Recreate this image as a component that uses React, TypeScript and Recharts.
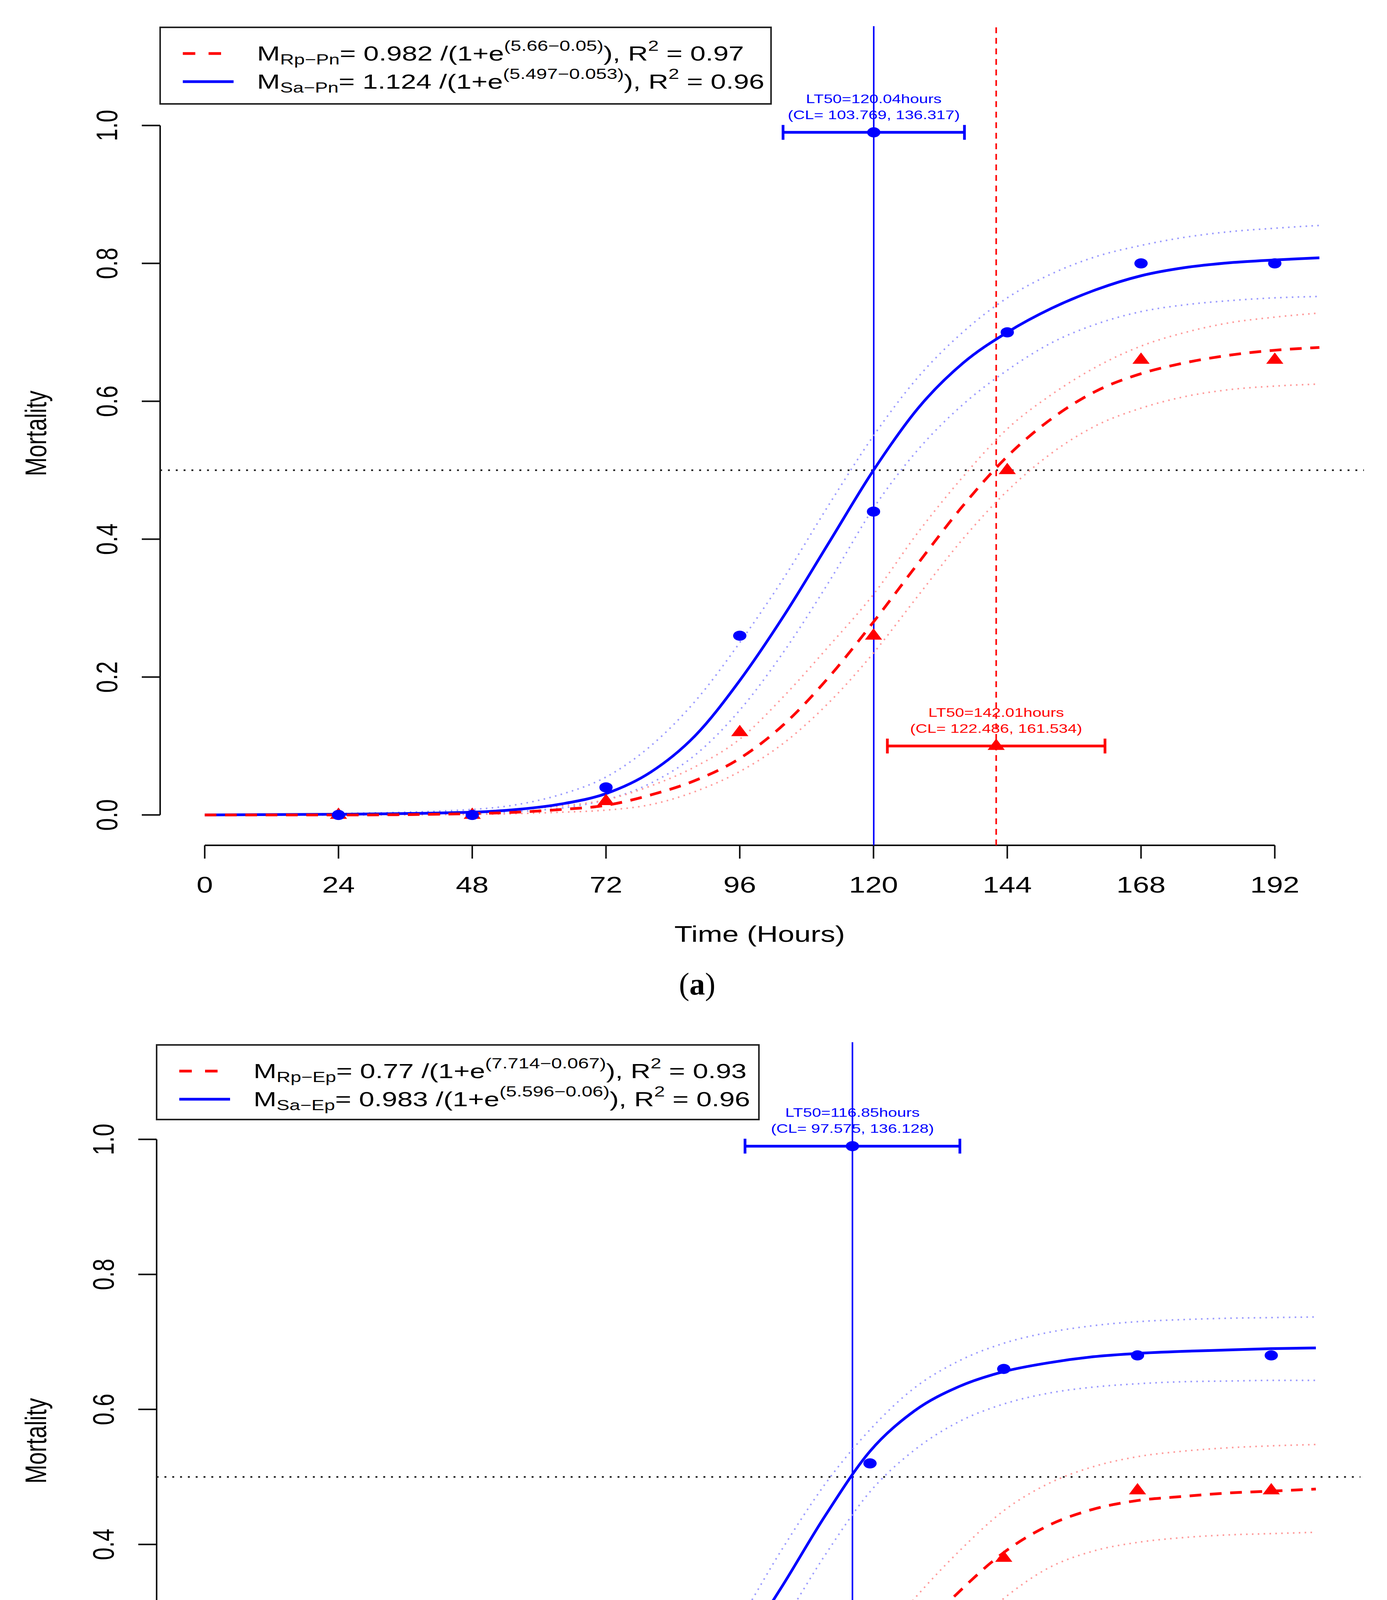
import React from "react";
import {
  ComposedChart,
  Line,
  Scatter,
  XAxis,
  YAxis,
  ReferenceLine,
  ErrorBar,
  Legend,
  Label,
} from "recharts";

const SANS = "'Liberation Sans', Arial, sans-serif";
const SERIF = "'Liberation Serif', 'Times New Roman', serif";
// the figure is stretched sideways, so the text is too
const STRETCH = 1.3;
const BLUE = "#0000ff";
const RED = "#ff0000";
const BLUE_CI = "#9a9aff";
const RED_CI = "#ff9a9a";

// time grid the fitted curves were read on
const CURVE_T = [0, 24, 48, 56, 64, 72, 80, 88, 96, 104, 112, 120, 128, 136, 144, 152, 160, 168, 176, 184, 192, 200];

// (a) Sa-Pn
const A_SA_FIT = [0, 0.001, 0.004, 0.008, 0.016, 0.031, 0.062, 0.115, 0.195, 0.29, 0.395, 0.5, 0.59, 0.655, 0.7, 0.735, 0.762, 0.782, 0.794, 0.801, 0.805, 0.808];
const A_SA_UP = [0, 0.002, 0.008, 0.015, 0.03, 0.055, 0.1, 0.165, 0.25, 0.345, 0.45, 0.55, 0.635, 0.7, 0.75, 0.785, 0.81, 0.826, 0.838, 0.846, 0.851, 0.855];
const A_SA_LO = [0, 0, 0.002, 0.005, 0.01, 0.022, 0.046, 0.087, 0.152, 0.238, 0.338, 0.445, 0.53, 0.595, 0.645, 0.685, 0.712, 0.73, 0.74, 0.746, 0.75, 0.752];
// (a) Rp-Pn
const A_RP_FIT = [0, 0, 0.002, 0.004, 0.008, 0.014, 0.029, 0.05, 0.082, 0.132, 0.2, 0.28, 0.365, 0.448, 0.52, 0.575, 0.615, 0.64, 0.656, 0.667, 0.674, 0.678];
const A_RP_UP = [0, 0.001, 0.004, 0.008, 0.013, 0.022, 0.042, 0.07, 0.11, 0.173, 0.245, 0.32, 0.41, 0.49, 0.56, 0.61, 0.65, 0.68, 0.7, 0.714, 0.722, 0.728];
const A_RP_LO = [0, 0, 0.001, 0.002, 0.004, 0.007, 0.015, 0.034, 0.063, 0.105, 0.163, 0.235, 0.318, 0.4, 0.47, 0.525, 0.565, 0.59, 0.607, 0.617, 0.622, 0.625];

// (b) Sa-Ep
const B_SA_FIT = [0, 0.001, 0.003, 0.007, 0.017, 0.043, 0.09, 0.157, 0.235, 0.335, 0.443, 0.538, 0.598, 0.634, 0.656, 0.669, 0.678, 0.683, 0.686, 0.688, 0.69, 0.691];
const B_SA_UP = [0, 0.002, 0.006, 0.012, 0.03, 0.06, 0.115, 0.19, 0.28, 0.39, 0.49, 0.57, 0.632, 0.672, 0.698, 0.714, 0.724, 0.73, 0.733, 0.735, 0.736, 0.737];
const B_SA_LO = [0, 0, 0.001, 0.003, 0.009, 0.025, 0.06, 0.115, 0.19, 0.28, 0.385, 0.478, 0.54, 0.582, 0.608, 0.624, 0.633, 0.638, 0.641, 0.642, 0.643, 0.643];
// (b) Rp-Ep
const B_RP_FIT = [0, 0, 0.0005, 0.001, 0.001, 0.002, 0.006, 0.013, 0.03, 0.068, 0.125, 0.19, 0.262, 0.33, 0.388, 0.428, 0.452, 0.465, 0.471, 0.476, 0.479, 0.482];
const B_RP_UP = [0, 0, 0.001, 0.002, 0.004, 0.007, 0.014, 0.027, 0.055, 0.1, 0.165, 0.24, 0.32, 0.39, 0.45, 0.49, 0.515, 0.53, 0.538, 0.543, 0.546, 0.548];
const B_RP_LO = [0, 0, 0, 0, 0, 0.001, 0.002, 0.005, 0.012, 0.03, 0.065, 0.12, 0.19, 0.26, 0.32, 0.365, 0.39, 0.403, 0.41, 0.414, 0.416, 0.418];

// observed mortality
const OBS_T = [24, 48, 72, 96, 120, 144, 168, 192];
const A_SA_OBS = [0, 0, 0.04, 0.26, 0.44, 0.7, 0.8, 0.8];
const A_RP_OBS = [0, 0, 0.02, 0.12, 0.26, 0.5, 0.66, 0.66];
const B_SA_OBS = [0, 0, 0.08, 0.24, 0.52, 0.66, 0.68, 0.68];
const B_RP_OBS = [0, 0, 0, 0.06, 0.2, 0.38, 0.48, 0.48];

// LT50 with confidence limits: [Sa, Rp]
const A_LT50 = [120.04, 142.01];
const A_CL_LOW = [103.769, 122.486];
const A_CL_HIGH = [136.317, 161.534];
const A_LT50_Y = [0.99, 0.1];
const B_LT50 = [116.85];
const B_CL_LOW = [97.575];
const B_CL_HIGH = [136.128];
const B_LT50_Y = [0.99];

const X_TICKS = [0, 24, 48, 72, 96, 120, 144, 168, 192];
const Y_TICKS = [0, 0.2, 0.4, 0.6, 0.8, 1.0];
const X_DOMAIN = [-8, 208];
const Y_DOMAIN = [-0.044, 1.144];

type LegendRow = { color: string; dashed: boolean; sub: string; coef: string; exp: string; r2: string };

const A_LEGEND: LegendRow[] = [
  { color: RED, dashed: true, sub: "Rp\u2212Pn", coef: "0.982", exp: "(5.66\u22120.05)", r2: "0.97" },
  { color: BLUE, dashed: false, sub: "Sa\u2212Pn", coef: "1.124", exp: "(5.497\u22120.053)", r2: "0.96" },
];
const B_LEGEND: LegendRow[] = [
  { color: RED, dashed: true, sub: "Rp\u2212Ep", coef: "0.77", exp: "(7.714\u22120.067)", r2: "0.93" },
  { color: BLUE, dashed: false, sub: "Sa\u2212Ep", coef: "0.983", exp: "(5.596\u22120.06)", r2: "0.96" },
];

const rows = (ts: number[], vs: number[]) => ts.map((t, i) => ({ t, v: vs[i] }));

const ltRows = (lt: number[], lo: number[], hi: number[], ys: number[]) =>
  lt.map((t, i) => ({ t, v: ys[i], lo: lo[i], hi: hi[i], err: [t - lo[i], hi[i] - t] }));

const circle = (cx: number, cy: number, color: string) => (
  <ellipse cx={cx} cy={cy} rx={17} ry={13} fill={color} />
);
const triangle = (cx: number, cy: number, color: string) => (
  <polygon points={`${cx},${cy - 19} ${cx + 22},${cy + 10} ${cx - 22},${cy + 10}`} fill={color} />
);

const pointShape = (color: string, kind: string) => (p: any) =>
  kind === "circle" ? circle(p.cx, p.cy, color) : triangle(p.cx, p.cy, color);

const ltShape = (color: string, kind: string) => (p: any) => (
  <g>
    {kind === "circle" ? circle(p.cx, p.cy, color) : triangle(p.cx, p.cy, color)}
    <text
      transform={`translate(${p.cx},${p.cy - 86}) scale(${STRETCH},1)`}
      textAnchor="middle"
      dominantBaseline="central"
      fontSize={32}
      fontFamily={SANS}
      fill={color}
    >
      LT50={p.payload.t.toFixed(2)}hours
    </text>
    <text
      transform={`translate(${p.cx},${p.cy - 45}) scale(${STRETCH},1)`}
      textAnchor="middle"
      dominantBaseline="central"
      fontSize={32}
      fontFamily={SANS}
      fill={color}
    >
      (CL= {String(p.payload.lo)}, {String(p.payload.hi)})
    </text>
  </g>
);

const XTick = (p: any) => (
  <text
    transform={`translate(${p.x},${p.y}) scale(${STRETCH},1)`}
    textAnchor="middle"
    dy="0.71em"
    fontSize={58}
    fontFamily={SANS}
    fill="#000"
  >
    {p.payload.value}
  </text>
);

const YTick = (p: any) => (
  <text
    transform={`translate(${p.x},${p.y}) scale(${STRETCH},1) rotate(-90)`}
    textAnchor="middle"
    fontSize={58}
    fontFamily={SANS}
    fill="#000"
  >
    {Number(p.payload.value).toFixed(1)}
  </text>
);

function LegendBox({ items, width, height }: { items: LegendRow[]; width: number; height: number }) {
  return (
    <div
      style={{
        width,
        height,
        boxSizing: "border-box",
        border: "4px solid #222",
        background: "#fff",
        position: "relative",
        fontFamily: SANS,
        color: "#000",
      }}
    >
      {items.map((r, i) => (
        <div key={i} style={{ position: "absolute", left: 0, top: 25 + i * 72, height: 80, width: "100%" }}>
          <svg width={140} height={80} style={{ position: "absolute", left: 52, top: 0 }}>
            <line
              x1={4}
              x2={134}
              y1={40}
              y2={40}
              stroke={r.color}
              strokeWidth={7}
              strokeDasharray={r.dashed ? "32 34" : undefined}
            />
          </svg>
          <span
            style={{
              position: "absolute",
              left: 246,
              top: 0,
              lineHeight: "80px",
              fontSize: 52,
              whiteSpace: "nowrap",
              display: "inline-block",
              transform: "scaleX(1.36)",
              transformOrigin: "left center",
            }}
          >
            M<span style={{ fontSize: "0.7em", position: "relative", top: "0.28em" }}>{r.sub}</span>= {r.coef} /(1+e
            <span style={{ fontSize: "0.7em", position: "relative", top: "-0.68em" }}>{r.exp}</span>), R
            <span style={{ fontSize: "0.7em", position: "relative", top: "-0.68em" }}>2</span> = {r.r2}
          </span>
        </div>
      ))}
    </div>
  );
}

type Layout = {
  height: number;
  plotLeft: number;
  plotRight: number;
  plotTop: number;
  plotBottom: number;
  legend: { left: number; top: number; width: number; height: number };
  captionY: number;
};

type PanelProps = {
  layout: Layout;
  fits: { data: { t: number; v: number }[]; color: string; dashed: boolean }[];
  bands: { data: { t: number; v: number }[]; color: string }[];
  points: { data: { t: number; v: number }[]; color: string; kind: string }[];
  lt50: { data: any[]; color: string; kind: string; dashed: boolean }[];
  legend: LegendRow[];
  caption: string;
};

const W = 3551;
const AXIS_H = 300;

function Panel({ layout, fits, bands, points, lt50, legend, caption }: PanelProps) {
  const margin = {
    top: layout.plotTop,
    right: W - layout.plotRight,
    left: 0,
    bottom: layout.height - layout.plotBottom - AXIS_H,
  };
  return (
    <div style={{ position: "relative", width: W, height: layout.height }}>
      <ComposedChart width={W} height={layout.height} margin={margin}>
        <XAxis
          type="number"
          dataKey="t"
          domain={X_DOMAIN}
          ticks={X_TICKS}
          interval={0}
          allowDataOverflow
          height={AXIS_H}
          axisLine={false}
          tickLine={{ stroke: "#111", strokeWidth: 4 }}
          tickSize={34}
          tickMargin={46}
          tick={XTick}
        >
          <Label
            content={(p: any) => {
              const vb = p.viewBox || { x: layout.plotLeft, y: layout.plotBottom, width: layout.plotRight - layout.plotLeft };
              return (
                <text
                  transform={`translate(${vb.x + vb.width / 2 - 6},${vb.y + 247}) scale(${STRETCH},1)`}
                  textAnchor="middle"
                  fontSize={58}
                  fontFamily={SANS}
                  fill="#000"
                >
                  Time (Hours)
                </text>
              );
            }}
          />
        </XAxis>
        <YAxis
          type="number"
          domain={Y_DOMAIN}
          ticks={Y_TICKS}
          interval={0}
          allowDataOverflow
          width={layout.plotLeft}
          axisLine={false}
          tickLine={{ stroke: "#111", strokeWidth: 4 }}
          tickSize={47}
          tickMargin={63}
          tick={YTick}
        >
          <Label
            content={(p: any) => {
              const vb = p.viewBox || { y: layout.plotTop, height: layout.plotBottom - layout.plotTop };
              return (
                <text
                  transform={`translate(92,${vb.y + vb.height / 2 - 6}) scale(${STRETCH},1) rotate(-90)`}
                  textAnchor="middle"
                  dominantBaseline="central"
                  fontSize={58}
                  fontFamily={SANS}
                  fill="#000"
                >
                  Mortality
                </text>
              );
            }}
          />
        </YAxis>

        {/* R style axis lines, only over the tick range */}
        <ReferenceLine
          segment={[{ x: X_DOMAIN[0], y: Y_TICKS[0] }, { x: X_DOMAIN[0], y: Y_TICKS[Y_TICKS.length - 1] }]}
          stroke="#111"
          strokeWidth={4}
          ifOverflow="visible"
        />
        <ReferenceLine
          segment={[{ x: X_TICKS[0], y: Y_DOMAIN[0] }, { x: X_TICKS[X_TICKS.length - 1], y: Y_DOMAIN[0] }]}
          stroke="#111"
          strokeWidth={4}
          ifOverflow="visible"
        />

        <ReferenceLine y={0.5} stroke="#222" strokeWidth={4} strokeDasharray="5 15" />
        {lt50.map((s, i) => (
          <ReferenceLine
            key={"v" + i}
            x={s.data[0].t}
            stroke={s.color}
            strokeWidth={4}
            strokeDasharray={s.dashed ? "15 12" : undefined}
          />
        ))}

        {bands.map((b, i) => (
          <Line
            key={"b" + i}
            data={b.data}
            dataKey="v"
            type="monotone"
            stroke={b.color}
            strokeWidth={4}
            strokeDasharray="4 11"
            dot={false}
            activeDot={false}
            isAnimationActive={false}
          />
        ))}
        {fits.map((f, i) => (
          <Line
            key={"f" + i}
            data={f.data}
            dataKey="v"
            type="monotone"
            stroke={f.color}
            strokeWidth={7}
            strokeDasharray={f.dashed ? "30 22" : undefined}
            dot={false}
            activeDot={false}
            isAnimationActive={false}
          />
        ))}
        {points.map((s, i) => (
          <Scatter
            key={"p" + i}
            data={s.data}
            dataKey="v"
            fill={s.color}
            shape={pointShape(s.color, s.kind)}
            isAnimationActive={false}
          />
        ))}
        {lt50.map((s, i) => (
          <Scatter
            key={"l" + i}
            data={s.data}
            dataKey="v"
            fill={s.color}
            shape={ltShape(s.color, s.kind)}
            isAnimationActive={false}
          >
            <ErrorBar
              dataKey="err"
              direction="x"
              width={19}
              stroke={s.color}
              strokeWidth={7}
              isAnimationActive={false}
            />
          </Scatter>
        ))}

        <Legend
          layout="vertical"
          align="center"
          verticalAlign="middle"
          wrapperStyle={{
            left: layout.legend.left,
            top: layout.legend.top,
            width: layout.legend.width,
            height: layout.legend.height,
          }}
          content={() => <LegendBox items={legend} width={layout.legend.width} height={layout.legend.height} />}
        />
      </ComposedChart>
      <div
        style={{
          position: "absolute",
          left: 1685,
          width: 200,
          top: layout.captionY - 45,
          height: 90,
          lineHeight: "90px",
          textAlign: "center",
          fontFamily: SERIF,
          fontSize: 80,
          color: "#000",
        }}
      >
        (<b>{caption}</b>)
      </div>
    </div>
  );
}

const LAYOUT_A: Layout = {
  height: 2600,
  plotLeft: 410,
  plotRight: 3492,
  plotTop: 67,
  plotBottom: 2164,
  legend: { left: 408, top: 68, width: 1568, height: 200 },
  captionY: 2519,
};

const LAYOUT_B: Layout = {
  height: 2574,
  plotLeft: 401,
  plotRight: 3483,
  plotTop: 68,
  plotBottom: 2121,
  legend: { left: 399, top: 73, width: 1546, height: 195 },
  captionY: 2457,
};

export default function App() {
  // in normal flow; the negative margin cancels the body margin
  return (
    <div style={{ margin: -8, width: W, height: 5174, background: "#fff", overflow: "hidden" }}>
      <Panel
        layout={LAYOUT_A}
        bands={[
          { data: rows(CURVE_T, A_SA_UP), color: BLUE_CI },
          { data: rows(CURVE_T, A_SA_LO), color: BLUE_CI },
          { data: rows(CURVE_T, A_RP_UP), color: RED_CI },
          { data: rows(CURVE_T, A_RP_LO), color: RED_CI },
        ]}
        fits={[
          { data: rows(CURVE_T, A_SA_FIT), color: BLUE, dashed: false },
          { data: rows(CURVE_T, A_RP_FIT), color: RED, dashed: true },
        ]}
        points={[
          { data: rows(OBS_T, A_RP_OBS), color: RED, kind: "triangle" },
          { data: rows(OBS_T, A_SA_OBS), color: BLUE, kind: "circle" },
        ]}
        lt50={[
          { data: ltRows(A_LT50, A_CL_LOW, A_CL_HIGH, A_LT50_Y).slice(0, 1), color: BLUE, kind: "circle", dashed: false },
          { data: ltRows(A_LT50, A_CL_LOW, A_CL_HIGH, A_LT50_Y).slice(1, 2), color: RED, kind: "triangle", dashed: true },
        ]}
        legend={A_LEGEND}
        caption="a"
      />
      <Panel
        layout={LAYOUT_B}
        bands={[
          { data: rows(CURVE_T, B_SA_UP), color: BLUE_CI },
          { data: rows(CURVE_T, B_SA_LO), color: BLUE_CI },
          { data: rows(CURVE_T, B_RP_UP), color: RED_CI },
          { data: rows(CURVE_T, B_RP_LO), color: RED_CI },
        ]}
        fits={[
          { data: rows(CURVE_T, B_SA_FIT), color: BLUE, dashed: false },
          { data: rows(CURVE_T, B_RP_FIT), color: RED, dashed: true },
        ]}
        points={[
          { data: rows(OBS_T, B_RP_OBS), color: RED, kind: "triangle" },
          { data: rows(OBS_T, B_SA_OBS), color: BLUE, kind: "circle" },
        ]}
        lt50={[{ data: ltRows(B_LT50, B_CL_LOW, B_CL_HIGH, B_LT50_Y), color: BLUE, kind: "circle", dashed: false }]}
        legend={B_LEGEND}
        caption="b"
      />
    </div>
  );
}
